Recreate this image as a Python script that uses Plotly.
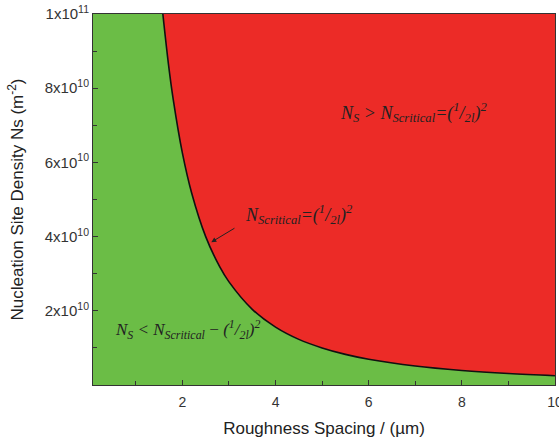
import plotly.graph_objects as go

# Roughness spacing l (µm) and critical nucleation site density (m^-2)
spacing_um = [1.58, 1.7, 1.8, 2.0, 2.2, 2.5, 2.8, 3.0, 3.5, 4.0, 4.5, 5.0, 5.5, 6.0, 7.0, 8.0, 9.0, 10.0]
n_critical = [1.0e11, 8.65e10, 7.72e10, 6.25e10, 5.17e10, 4.0e10, 3.19e10, 2.78e10, 2.04e10,
              1.56e10, 1.23e10, 1.0e10, 8.26e9, 6.94e9, 5.10e9, 3.91e9, 3.09e9, 2.5e9]
y_max = 1e11
x_tick_vals = [2, 4, 6, 8, 10]
x_tick_text = ["2", "4", "6", "8", "10"]
y_tick_vals = [2e10, 4e10, 6e10, 8e10, 1e11]
y_tick_text = ["2x10<sup>10</sup>", "4x10<sup>10</sup>", "6x10<sup>10</sup>", "8x10<sup>10</sup>", "1x10<sup>11</sup>"]

GREEN = "#6bbd46"
RED = "#ec2b27"

fig = go.Figure()
fig.add_trace(go.Scatter(x=spacing_um, y=[y_max] * len(spacing_um), mode="lines",
                         line=dict(width=0, color=RED), hoverinfo="skip", showlegend=False))
fig.add_trace(go.Scatter(x=spacing_um, y=n_critical, mode="lines", fill="tonexty",
                         fillcolor=RED, line=dict(color="#111111", width=1.6, shape="spline"),
                         showlegend=False))

tfont = dict(family="Liberation Serif", size=18, color="#222222")
fig.add_annotation(x=5.35, y=7.35e10, xref="x", yref="y", xanchor="left", showarrow=False,
                   text="<i>N<sub>S</sub> &gt; N<sub>Scritical</sub>=(<sup>1</sup>/<sub>2l</sub>)<sup>2</sup></i>",
                   font=tfont)
fig.add_annotation(x=3.3, y=4.6e10, xref="x", yref="y", xanchor="left", showarrow=False,
                   text="<i>N<sub>Scritical</sub>=(<sup>1</sup>/<sub>2l</sub>)<sup>2</sup></i>",
                   font=tfont)
fig.add_annotation(x=2.62, y=3.85e10, ax=3.15, ay=4.25e10, axref="x", ayref="y", xref="x", yref="y",
                   showarrow=True, arrowhead=2, arrowsize=1, arrowwidth=1, arrowcolor="#222222", text="")
fig.add_annotation(x=0.5, y=1.5e10, xref="x", yref="y", xanchor="left", showarrow=False,
                   text="<i>N<sub>S</sub> &lt; N<sub>Scritical</sub>&#8201;−&#8201;(<sup>1</sup>/<sub>2l</sub>)<sup>2</sup></i>",
                   font=dict(family="Liberation Serif", size=17, color="#222222"))

axis_common = dict(showgrid=False, zeroline=False, showline=True, linecolor="#333333", linewidth=1,
                   mirror=True, ticks="inside", ticklen=5, tickcolor="#333333", automargin=False,
                   ticklabeloverflow="allow")
fig.update_xaxes(range=[0.08, 10.001], tickvals=x_tick_vals, ticktext=x_tick_text,
                 tickfont=dict(family="Arial", size=14, color="#333333"), ticklabelstandoff=4,
                 minor=dict(ticks="inside", ticklen=4, tickcolor="#333333", dtick=1, tick0=0),
                 title=dict(text="Roughness Spacing / (µm)", font=dict(family="Arial", size=17, color="#222222"),
                            standoff=13),
                 **axis_common)
fig.update_yaxes(range=[0, y_max], tickvals=y_tick_vals, ticktext=y_tick_text,
                 tickfont=dict(family="Arial", size=15, color="#333333"),
                 minor=dict(ticks="inside", ticklen=4, tickcolor="#333333", dtick=1e10, tick0=0),
                 title=dict(text="Nucleation Site Density Ns (m<sup>-2</sup>)",
                            font=dict(family="Arial", size=17, color="#222222"), standoff=16),
                 **axis_common)
fig.update_layout(width=559, height=441, margin=dict(l=93, r=4, t=14, b=56),
                  plot_bgcolor=GREEN, paper_bgcolor="white")
fig.write_html("out.html", config={"displayModeBar": False},
               post_script="document.body.style.margin='0px';")
